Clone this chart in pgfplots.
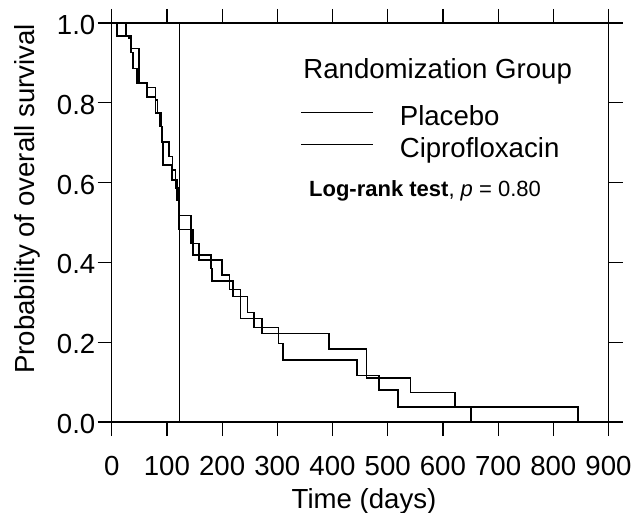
\documentclass[border=0pt]{standalone}
\usepackage{fontspec}
\setmainfont{Liberation Sans}
\usepackage{pgfplots}
\pgfplotsset{compat=1.18}

\begin{document}
\begin{tikzpicture}
\begin{axis}[
  name=ax,
  scale only axis, width=248.4pt, height=199.5pt,
  xmin=0, xmax=900, ymin=0, ymax=1,
  xtick={0,100,...,900}, ytick={0,0.2,0.4,0.6,0.8,1.0},
  tick align=outside, major tick length=7pt,
  axis line style={line width=0.6pt},
  every tick/.style={black, line width=0.6pt},
  /pgf/number format/assume math mode=true,
  yticklabel style={/pgf/number format/fixed, /pgf/number format/fixed zerofill, /pgf/number format/precision=1},
  tick label style={font=\fontsize{13.8}{16}\selectfont, inner sep=0pt},
  xticklabel style={anchor=base, yshift=-19.5pt},
  yticklabel style={anchor=east, xshift=-1pt, yshift=-1pt},
  xlabel={Time (days)}, ylabel={Probability of overall survival},
  label style={font=\fontsize{13.8}{16}\selectfont, inner sep=0pt},
  xlabel style={at={(axis description cs:0.508,-0.2155)}, anchor=base},
  ylabel style={at={(axis description cs:-0.1556,0.559)}, anchor=base},
  legend cell align=left,
  legend image code/.code={\draw[#1] (0pt,3pt) -- (36pt,3pt);},
  legend style={draw=none, fill=none, at={(axis cs:341,0.794)}, anchor=north west,
    inner sep=0pt, row sep=3pt, column sep=13pt,
    font=\fontsize{13.8}{16}\selectfont,
    nodes={inner sep=0pt, text height=10pt, text depth=3pt}},
]
% Placebo
\addplot[const plot, black, line width=0.75pt] coordinates {
 (0,1) (10,0.968) (35,0.926) (39,0.886) (46,0.849) (64,0.815) (79,0.774)
 (87,0.740) (90,0.702) (104,0.665) (110,0.632) (116,0.586) (120,0.556)
 (123,0.517) (144,0.448) (158,0.406) (200,0.368) (213,0.332) (233,0.260)
 (272,0.222) (394,0.183) (462,0.110) (541,0.074) (622,0.037) (845,0)
};
\addlegendentry{Placebo}
% Ciprofloxacin
\addplot[const plot, black, line width=0.75pt] coordinates {
 (0,1) (26,0.968) (30,0.963) (35,0.936) (49,0.849) (64,0.838) (79,0.807)
 (83,0.774) (89,0.740) (91,0.702) (93,0.644) (109,0.607) (118,0.556)
 (122,0.483) (147,0.419) (180,0.385) (182,0.353) (220,0.314) (246,0.274)
 (258,0.237) (302,0.197) (310,0.155) (444,0.116) (484,0.080) (519,0.038)
 (651,0)
};
\addlegendentry{Ciprofloxacin}
% vertical reference line
\addplot[black, line width=0.6pt, forget plot] coordinates {(123,0) (123,1)};
\node[anchor=base west, inner sep=0pt, font=\fontsize{13.8}{16}\selectfont]
  at (axis cs:346.6,0.862) {Randomization Group};
\node[anchor=base west, inner sep=0pt, font=\fontsize{11}{13}\selectfont]
  at (axis cs:357,0.564) {\textbf{Log-rank test}, \textit{p} = 0.80};
\end{axis}
\pgfresetboundingbox
\path ([shift={(-55.85pt,-45pt)}]ax.south west) rectangle ([shift={(13.25pt,11.5pt)}]ax.north east);
\end{tikzpicture}
\end{document}
